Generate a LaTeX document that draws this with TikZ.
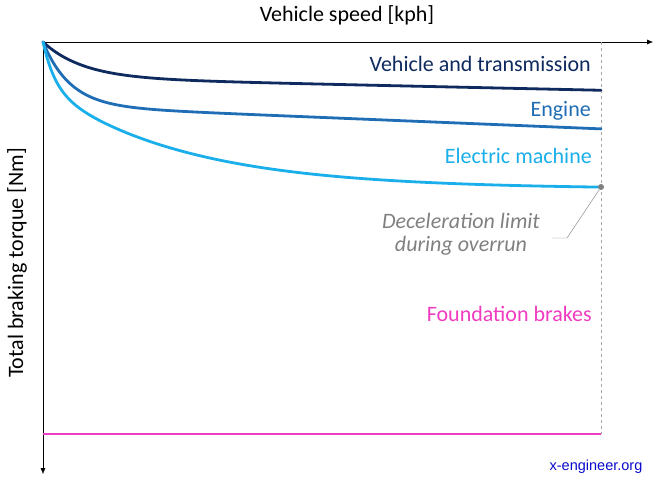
\documentclass[tikz,border=0pt]{standalone}
\usepackage{fontspec}
\setmainfont{Carlito}
\newfontfamily\webfont{Liberation Sans}
\usetikzlibrary{arrows.meta}

\begin{document}
\begin{tikzpicture}[x=1pt,y=-1pt,
	axis/.style={thin,-{Latex[length=6pt,width=5pt]}},
	curve/.style={line width=2.8pt,line cap=round,domain=0:558,samples=140,smooth},
	label/.style={anchor=base east,inner sep=0pt,font=\fontsize{22}{23}\selectfont}]
					\definecolor{navy}{HTML}{0E2A5E}
					\definecolor{midblue}{HTML}{1F6DB4}
					\definecolor{skyblue}{HTML}{1AAFEA}
					\definecolor{magenta}{HTML}{F03CC0}
					\definecolor{limitgray}{HTML}{808080}
					\definecolor{webblue}{HTML}{0A0ACC}
					\useasboundingbox (0,0) rectangle (660,484);
					% axes
					\coordinate (origin) at (43,42);
					\coordinate (xend) at (653,42);
					\coordinate (yend) at (43,474);
					\draw[axis] (origin) -- (xend);
					\draw[axis] (origin) -- (yend);
					\node[anchor=base,inner sep=0pt,font=\fontsize{22}{23}\selectfont] (xlabel) at (347,22) {Vehicle speed [kph]};
					\node[rotate=90,inner sep=0pt,font=\fontsize{22}{23}\selectfont] (ylabel) at (17,263) {Total braking torque [Nm]};
					% speed limit
					\coordinate (vtop) at (601,42);
					\coordinate (vbot) at (601,434);
					\draw[limitgray!70,thin,dashed] (vtop) -- (vbot);
					% torque curves
					\draw[curve,navy] plot ({43+\x},{42+36*(1-exp(-\x/40))+0.022*\x});
					\draw[curve,midblue] plot ({43+\x},{42+64*(1-exp(-\x/27))+0.041*\x});
					\draw[curve,skyblue] plot ({43+\x},{42+45*(1-exp(-\x/12))+102*(1-exp(-\x/140))});
					\draw[curve,magenta,line cap=butt] (43,434) -- (vbot);
					\node[label,navy] (vehicle) at (591,72) {Vehicle and transmission};
					\node[label,midblue] (engine) at (591,116) {Engine};
					\node[label,skyblue] (electric) at (592,163) {Electric machine};
					\node[label,magenta] (brakes) at (592,321) {Foundation brakes};
					% deceleration limit
					\node[circle,fill=limitgray,inner sep=0pt,minimum size=6pt] (limit) at (601,187) {};
					\node[anchor=base,inner sep=0pt,align=center,limitgray,font=\fontsize{22}{23}\selectfont\itshape] (overrun) at (461,251) {Deceleration limit\\during overrun};
					\coordinate (kink) at (567,238);
					\coordinate (tail) at (552,238);
					\draw[limitgray,thin] (limit) -- (kink) -- (tail);
					\node[anchor=base,inner sep=0pt,webblue,font=\fontsize{14.5}{16}\webfont] (web) at (596,470) {x-engineer.org};
				\end{tikzpicture}
\end{document}
